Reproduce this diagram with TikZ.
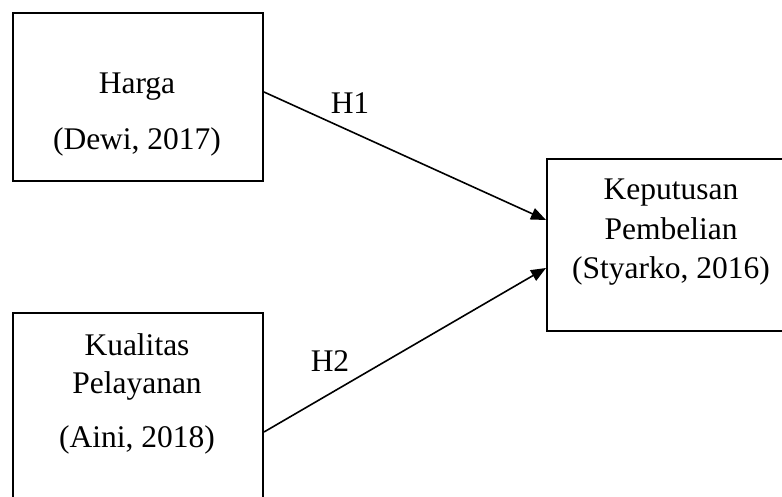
\documentclass[tikz,border=0pt]{standalone}
\usepackage{fontspec}
\setmainfont{Liberation Serif}
\usetikzlibrary{arrows.meta}
\begin{document}
\begin{tikzpicture}[x=1pt,y=-1pt,
  box/.style={draw, line width=2pt, rectangle, inner sep=0pt},
  txt/.style={anchor=base, inner sep=0pt, font=\fontsize{31.5}{36}\selectfont},
  conn/.style={line width=1.6pt, -{Triangle[length=15pt,width=12pt]}}]
\clip (0,0) rectangle (782,497);
\fill[white] (0,0) rectangle (782,497);
% boxes
\node[box, minimum width=250pt, minimum height=168pt] (harga) at (138,97) {};
\node[box, minimum width=250pt, minimum height=230pt] (kual) at (138,428) {};
\node[box, minimum width=250pt, minimum height=172pt] (kep) at (672,245) {};
% texts
\node[txt] (t1) at (137,94) {Harga};
\node[txt] (t2) at (137,150) {(Dewi, 2017)};
\node[txt] (t3) at (137,355) {Kualitas};
\node[txt] (t4) at (137,393) {Pelayanan};
\node[txt] (t5) at (137,447) {(Aini, 2018)};
\node[txt] (t6) at (671,200) {Keputusan};
\node[txt] (t7) at (671,240) {Pembelian};
\node[txt] (t8) at (671,278) {(Styarko, 2016)};
% connectors
\coordinate (a1) at (harga.east |- 0,92);
\coordinate (b1) at (kep.west |- 0,220);
\coordinate (a2) at (kual.east |- 0,432);
\coordinate (b2) at (kep.west |- 0,268);
\draw[conn] (a1) -- (b1);
\draw[conn] (a2) -- (b2);
\node[txt] (h1) at (350,114) {H1};
\node[txt] (h2) at (330,371) {H2};
\end{tikzpicture}
\end{document}
